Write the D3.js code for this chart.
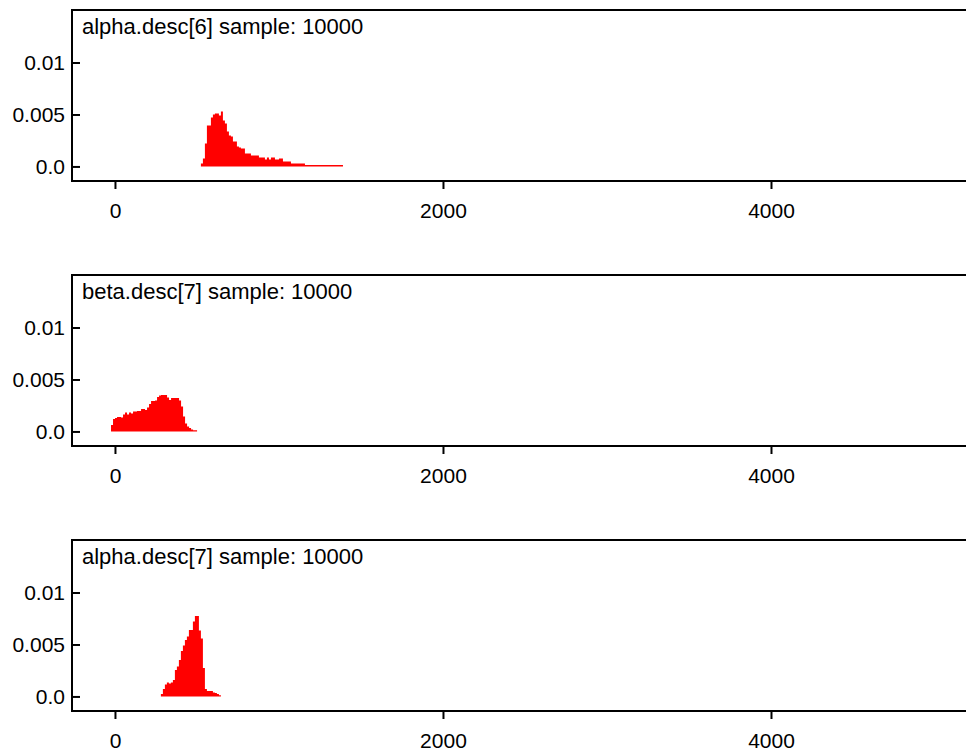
<!DOCTYPE html>
<html>
<head>
<meta charset="utf-8">
<script src="https://cdn.jsdelivr.net/npm/d3@7"></script>
<style>
  body { margin: 0; background: #fff; }
  svg { display: block; font-family: "Liberation Sans", Arial, Helvetica, sans-serif; }
</style>
</head>
<body>
<svg id="chart" width="966" height="756"></svg>
<script>
// histogram panels, one per node (density per bin, bins of equal width)
var titles = ['alpha.desc[6] sample: 10000', 'beta.desc[7] sample: 10000', 'alpha.desc[7] sample: 10000'];
var binWidth = 12.2;
var binStarts = [524, -24, 280];

var alpha6 = [0.00029, 0.00077, 0.00221, 0.00394, 0.00394, 0.00471, 0.005, 0.0051, 0.0051, 0.0049,
    0.00529, 0.00442, 0.00413, 0.00337, 0.00298, 0.00288, 0.0024, 0.0024, 0.00192, 0.00183,
    0.00173, 0.00173, 0.00125, 0.00125, 0.00125, 0.00106, 0.00106, 0.00106, 0.00106, 0.00087,
    0.00087, 0.00087, 0.00067, 0.00087, 0.00067, 0.00087, 0.00087, 0.00067, 0.00067, 0.00077,
    0.00077, 0.00048, 0.00048, 0.00048, 0.00048, 0.00029, 0.00029, 0.00029, 0.00029, 0.00029,
    0.00029, 0.00029, 0.00015, 0.00015, 0.00015, 0.00015, 0.00015, 0.00015, 0.00015, 0.00015,
    0.00015, 0.00015, 0.00015, 0.00015, 0.00015, 0.00015, 0.00015, 0.00015, 0.00015, 0.00015, 0.00015];

var beta7 = [0.00063, 0.0012, 0.0013, 0.00139, 0.00139, 0.00135, 0.00163, 0.00183, 0.00163, 0.00183,
    0.00173, 0.00192, 0.00192, 0.00197, 0.00197, 0.00216, 0.00216, 0.00207, 0.00231, 0.00264,
    0.00293, 0.00293, 0.00298, 0.00332, 0.00346, 0.00351, 0.00351, 0.00351, 0.00327, 0.00303,
    0.00322, 0.00322, 0.00322, 0.00322, 0.00298, 0.0024, 0.00144, 0.00077, 0.00048, 0.00034,
    0.00019, 0.00012, 0.00012];

var alpha7 = [0.00024, 0.00072, 0.00115, 0.00135, 0.00125, 0.00135, 0.00159, 0.00255, 0.00288, 0.00351,
    0.00438, 0.0049, 0.00543, 0.00577, 0.00639, 0.00639, 0.00721, 0.00774, 0.00774, 0.00635,
    0.00558, 0.00274, 0.00072, 0.00053, 0.00053, 0.00053, 0.00038, 0.00034, 0.00024, 0.00012];

var densities = [alpha6, beta7, alpha7];

var xTicks = [0, 2000, 4000];
var yTicks = [0, 0.005, 0.01];
var yTickLabels = ['0.0', '0.005', '0.01'];

var svg = d3.select('#chart');
var left = 72, panelH = 171, panelStep = 265, firstTop = 10;
var plotW = 945;

var x = d3.scaleLinear().domain([-262, 5500]).range([0, plotW]);
var y = d3.scaleLinear().domain([-0.0014, 0.01505]).range([panelH, 0]);

var area = d3.area()
    .curve(d3.curveStepAfter)
    .x(function(d) { return x(d.x); })
    .y0(y(0))
    .y1(function(d) { return y(d.v); });

titles.forEach(function(title, p) {
    var g = svg.append('g')
        .attr('transform', 'translate(' + left + ',' + (firstTop + p * panelStep) + ')');

    var vals = densities[p];
    var pts = vals.map(function(v, i) { return {x: binStarts[p] + i * binWidth, v: v}; });
    pts.push({x: binStarts[p] + vals.length * binWidth, v: vals[vals.length - 1]});

    g.append('path')
        .datum(pts)
        .attr('d', area)
        .attr('fill', '#ff0000');

    var yAxis = d3.axisLeft(y)
        .tickValues(yTicks)
        .tickFormat(function(d, i) { return yTickLabels[i]; })
        .tickSizeInner(-8)
        .tickSizeOuter(0)
        .tickPadding(7);
    var ya = g.append('g').call(yAxis);
    ya.select('.domain').remove();

    var xAxis = d3.axisBottom(x)
        .tickValues(xTicks)
        .tickFormat(d3.format('d'))
        .tickSizeInner(8)
        .tickSizeOuter(0)
        .tickPadding(14);
    var xa = g.append('g').attr('transform', 'translate(0,' + panelH + ')').call(xAxis);
    xa.select('.domain').remove();

    [ya, xa].forEach(function(a) {
        a.selectAll('line').attr('stroke', '#000').attr('stroke-width', 2);
        a.selectAll('text').attr('fill', '#000').style('font-size', '21px')
            .style('font-family', '"Liberation Sans", Arial, Helvetica, sans-serif');
    });

    // frame: top, left and bottom edges, open to the right
    g.append('path')
        .attr('d', 'M' + (plotW + 20) + ',0H0V' + panelH + 'H' + (plotW + 20))
        .attr('fill', 'none')
        .attr('stroke', '#000')
        .attr('stroke-width', 2);

    g.append('text')
        .attr('x', 10)
        .attr('y', 24)
        .style('font-size', '22px')
        .text(title);
});
</script>
</body>
</html>
